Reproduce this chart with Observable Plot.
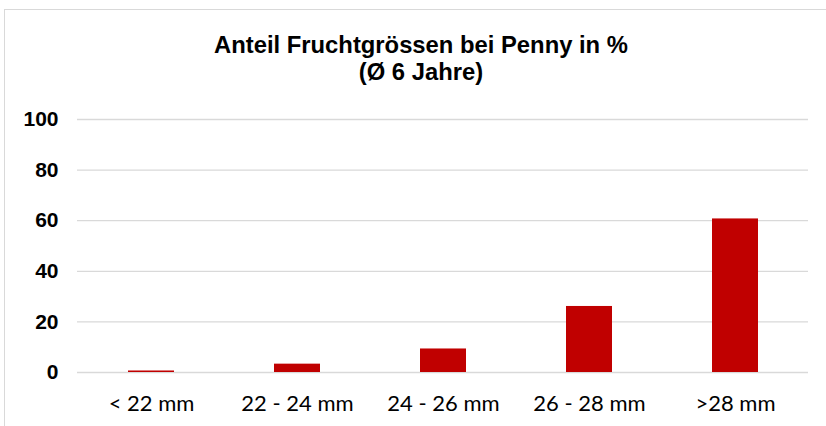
<!DOCTYPE html>
<html><head><meta charset="utf-8">
<script src="https://cdn.jsdelivr.net/npm/d3@7"></script>
<script src="https://cdn.jsdelivr.net/npm/@observablehq/plot@0.6"></script>
<style>
html,body{margin:0;padding:0;background:#fff;overflow:hidden;width:826px;height:426px;}
#frame{position:absolute;left:4px;top:9px;width:900px;height:500px;border:1px solid #d9d9d9;box-sizing:border-box;}
#title{position:absolute;left:0;top:0;width:842px;height:100px;text-align:center;font-family:"Liberation Sans",Arial,sans-serif;font-weight:bold;font-size:23.8px;color:#000;line-height:27px;padding-top:31px;box-sizing:border-box;}
#chart{position:absolute;left:0;top:100px;}
</style></head>
<body>
<div id="frame"></div>
<div id="title">Anteil Fruchtgrössen bei Penny in %<br>(Ø 6 Jahre)</div>
<div id="chart"></div>
<script>
const categories = ["< 22 mm", "22 - 24 mm", "24 - 26 mm", "26 - 28 mm", ">28 mm"];
const values = [0.6, 3.3, 9.3, 26.1, 60.7];
const yTicks = [0, 20, 40, 60, 80, 100];
const data = categories.map((c, i) => ({cat: c, val: values[i]}));

const plot = Plot.plot({
  width: 826,
  height: 326,
  marginTop: 19,
  marginBottom: 54,
  marginLeft: 77,
  marginRight: 18,
  style: {background: "transparent", overflow: "visible"},
  x: {domain: categories, paddingInner: 0.685, paddingOuter: 0.3425, align: 0.5, label: null},
  y: {domain: [0, 100], ticks: yTicks, label: null},
  marks: [
    Plot.gridY(yTicks, {stroke: "#d9d9d9", strokeOpacity: 1, strokeWidth: 1.3}),
    Plot.barY(data, {x: "cat", y: "val", fill: "#c00000"}),
    Plot.axisY({ticks: yTicks, tickSize: 0, tickPadding: 19, fontSize: 21, fontWeight: "bold", fontFamily: "Liberation Sans, Arial, sans-serif", fill: "#000"}),
    Plot.axisX({tickSize: 0, tickPadding: 23, fontSize: 22, fontFamily: "Lato, sans-serif", fill: "#000"})
  ]
});
document.getElementById("chart").appendChild(plot);
</script>
</body></html>
